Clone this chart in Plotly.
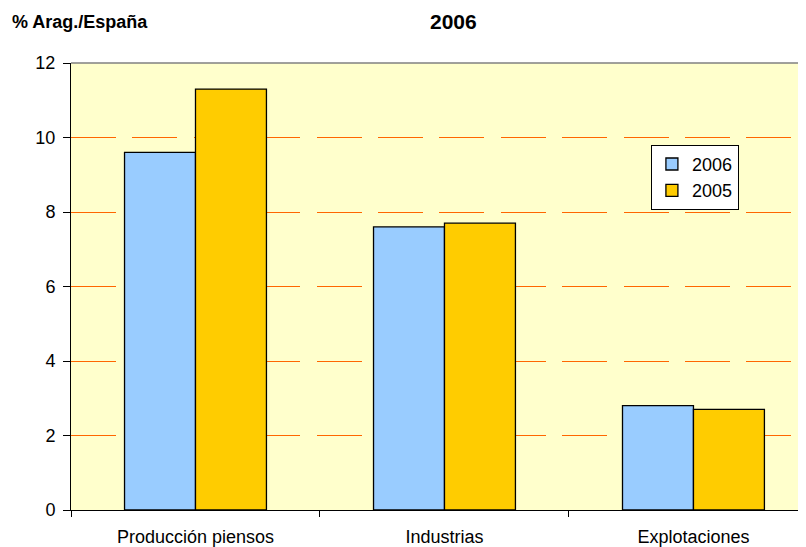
import plotly.graph_objects as go

categories = ["Producción piensos", "Industrias", "Explotaciones"]
values_2006 = [9.6, 7.6, 2.8]
values_2005 = [11.3, 7.7, 2.7]
y_ticks = [0, 2, 4, 6, 8, 10, 12]

font = "Liberation Sans, Arial, sans-serif"

fig = go.Figure()
fig.add_trace(
    go.Bar(
        x=categories,
        y=values_2006,
        name="2006",
        marker={"color": "#99CCFF", "line": {"color": "#000000", "width": 1.3}},
    )
)
fig.add_trace(
    go.Bar(
        x=categories,
        y=values_2005,
        name="2005",
        marker={"color": "#FFCC00", "line": {"color": "#000000", "width": 1.3}},
    )
)

# the page body adds an 8px margin, so the figure is sized 8px smaller
fig.update_layout(
    width=798,
    height=539,
    margin={"l": 63, "r": 0, "t": 55, "b": 37},
    paper_bgcolor="#FFFFFF",
    plot_bgcolor="#FFFFCC",
    barmode="group",
    bargap=0.43,
    bargroupgap=0,
    font={"family": font, "size": 18, "color": "#000000"},
    showlegend=True,
    legend={
        "x": 0.789,
        "y": 0.817,
        "xanchor": "left",
        "yanchor": "top",
        "bgcolor": "#FFFFFF",
        "bordercolor": "#000000",
        "borderwidth": 1,
        "font": {"size": 18},
        "traceorder": "normal",
        "itemwidth": 30,
        "tracegroupgap": 0,
    },
    xaxis={
        "type": "category",
        "range": [-0.5, 2.452],
        "tickson": "boundaries",
        "ticks": "outside",
        "ticklen": 6,
        "ticklabelstandoff": 10,
        "tickcolor": "#000000",
        "showline": True,
        "linecolor": "#000000",
        "linewidth": 1,
        "showgrid": False,
        "tickfont": {"size": 18},
    },
    yaxis={
        "range": [0, 12],
        "tickvals": y_ticks,
        "ticks": "outside",
        "ticklen": 7,
        "ticklabelstandoff": 4,
        "tickcolor": "#000000",
        "showline": True,
        "linecolor": "#000000",
        "linewidth": 1,
        "showgrid": True,
        "gridcolor": "#FF6600",
        "gridwidth": 1,
        "griddash": "45px,16.4px",
        "zeroline": False,
        "tickfont": {"size": 18},
    },
    shapes=[
        {
            "type": "line",
            "xref": "paper",
            "yref": "paper",
            "x0": 0,
            "x1": 1,
            "y0": 1,
            "y1": 1,
            "line": {"color": "#808080", "width": 1.5},
        }
    ],
    annotations=[
        {
            "text": "<b>2006</b>",
            "xref": "paper",
            "yref": "paper",
            "x": 0.521,
            "y": 1.123,
            "xanchor": "center",
            "yanchor": "top",
            "showarrow": False,
            "font": {"size": 21},
        },
        {
            "text": "<b>% Arag./España</b>",
            "xref": "paper",
            "yref": "paper",
            "x": 0.0122,
            "y": 1.0917,
            "xanchor": "center",
            "yanchor": "middle",
            "showarrow": False,
            "font": {"size": 18},
        },
    ],
)

fig.write_html("out.html")
